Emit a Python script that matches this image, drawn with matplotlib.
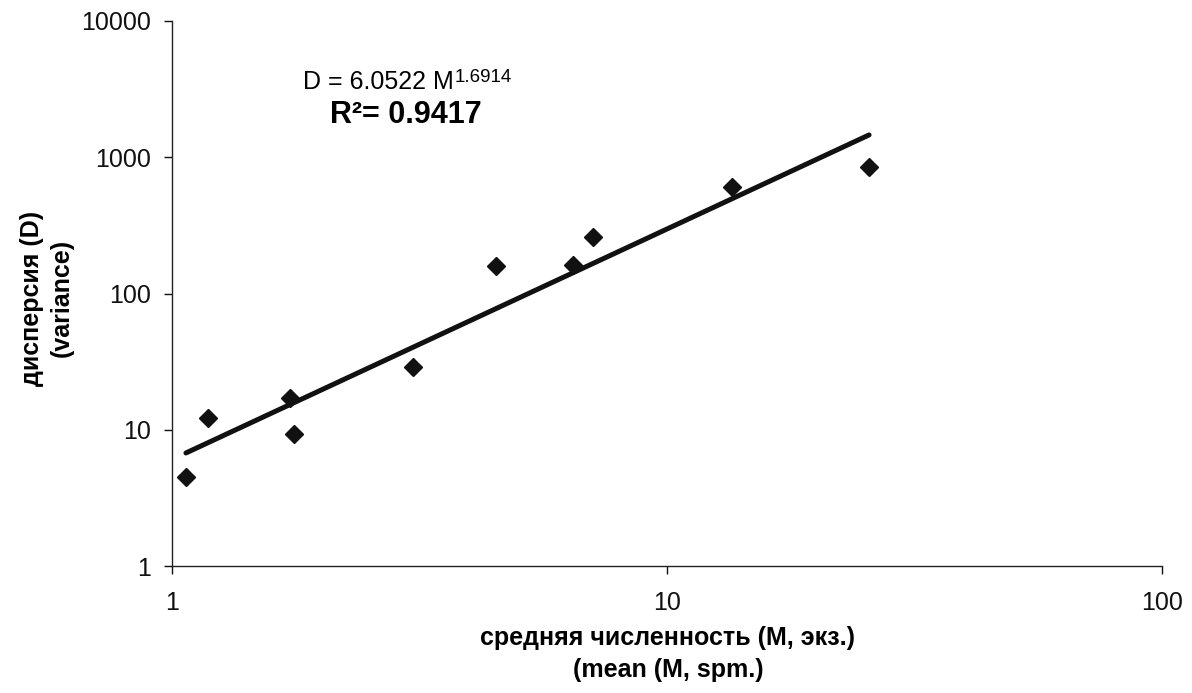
import matplotlib.pyplot as plt
import numpy as np

plt.rcParams['font.family'] = ['Liberation Sans', 'DejaVu Sans']

# data
mean_M = [1.067, 1.18, 1.73, 1.76, 3.07, 4.51, 6.46, 7.09, 13.5, 25.6]
var_D = [4.5, 12.2, 17.2, 9.35, 29.1, 159, 163, 262, 602, 844]

# power trend line D = a * M^b
a = 6.0522
b = 1.6914
r2 = 0.9417

fig = plt.figure(figsize=(11.92, 6.93), dpi=100)
ax = fig.add_axes([172/1192, 1-566/693, (1162-172)/1192, (566-21)/693])

mx = np.geomspace(min(mean_M), max(mean_M), 50)
ax.plot(mx, a * mx**b, color='#111111', lw=3.6, solid_capstyle='round', zorder=2)
ax.plot(mean_M, var_D, 'D', color='#111111', ms=9, zorder=3)

ax.set_xscale('log')
ax.set_yscale('log')
ax.set_xlim(1, 100)
ax.set_ylim(1, 10000)
ax.set_xticks([1, 10, 100])
ax.set_xticklabels(['1', '10', '100'])
ax.set_yticks([1, 10, 100, 1000, 10000])
ax.set_yticklabels(['1', '10', '100', '1000', '10000'])
ax.minorticks_off()
ax.tick_params(direction='out', length=6, width=1, labelsize=18, colors='#111111')
ax.tick_params(axis='y', pad=9)
ax.tick_params(axis='x', pad=12)

ax.spines['top'].set_visible(False)
ax.spines['right'].set_visible(False)
for s in ['left', 'bottom']:
    ax.spines[s].set_linewidth(1)
    ax.spines[s].set_color('#222222')

fig.text(668/1192, 1-654/693, 'средняя численность (M, экз.)\n(mean (M, spm.)',
         ha='center', va='center', fontsize=18, fontweight='bold', linespacing=1.4)
fig.text(47/1192, 1-298/693, 'дисперсия (D)\n(variance)', rotation=90,
         ha='center', va='center', fontsize=18, fontweight='bold', linespacing=1.3)

# equation
t = fig.text(303/1192, 1-89/693, 'D = 6.0522 M', fontsize=18, va='baseline')
ax.annotate(f'{b}', xy=(1, 1), xycoords=t, xytext=(0.5, 1), textcoords='offset points',
            fontsize=13.5, va='top', ha='left')
fig.text(330/1192, 1-123/693, f'R²= {r2}', fontsize=22, fontweight='bold', va='baseline')

fig.savefig('out.png', dpi=100, facecolor='white')
